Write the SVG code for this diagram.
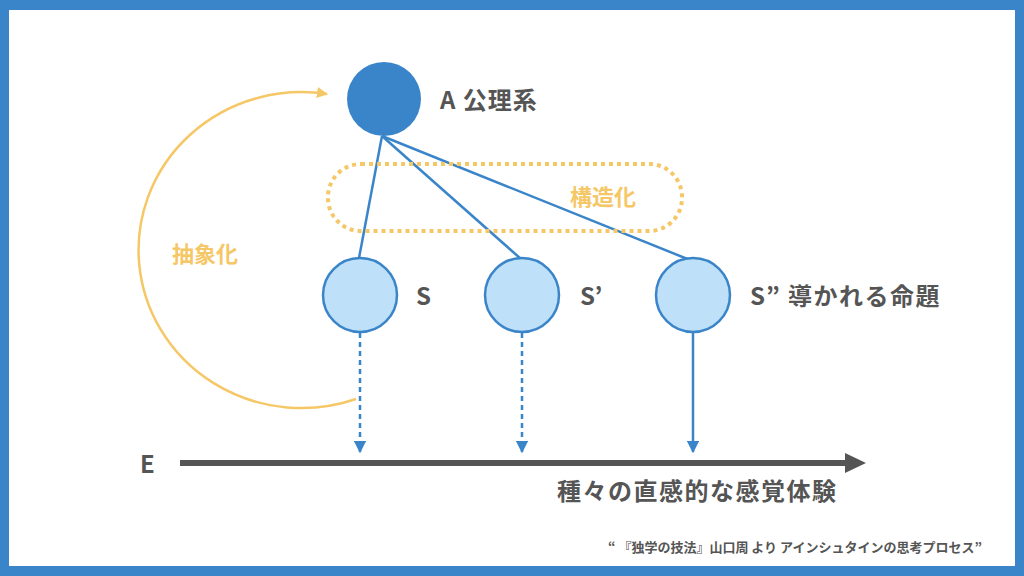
<svg xmlns="http://www.w3.org/2000/svg" width="1024" height="576" viewBox="0 0 1024 576">
<defs>
<style>
.t{font-family:"Noto Sans CJK JP","Liberation Sans",sans-serif;fill:#555;font-weight:700}
.y{font-family:"Noto Sans CJK JP",sans-serif;fill:#f5c766;font-weight:700;font-size:22px}
.s{fill:#bee0f8;stroke:#3a85c9;stroke-width:2.5}
.c{stroke:#3a85c9;stroke-width:2.5;fill:none}
</style>
<marker id="ab" viewBox="0 0 10 10" refX="9" refY="5" markerWidth="5" markerHeight="5" orient="auto" markerUnits="strokeWidth"><path d="M0,0L10,5L0,10z" fill="#3a85c9"/></marker>
<marker id="ay" viewBox="0 0 10 10" refX="9" refY="5" markerWidth="4.5" markerHeight="4.5" orient="auto" markerUnits="strokeWidth"><path d="M0,0L10,5L0,10z" fill="#f5c766"/></marker>
</defs>
<rect x="0" y="0" width="1024" height="576" fill="#3a85c9"/>
<rect x="9" y="10" width="1006" height="556" fill="#fff"/>
<g id="connectors">
<line class="c" x1="382" y1="136" x2="359" y2="258"/>
<line class="c" x1="382" y1="136" x2="521" y2="259"/>
<line class="c" x1="382" y1="136" x2="690" y2="260"/>
<line class="c" x1="360" y1="333" x2="360" y2="452" stroke-dasharray="5 4" marker-end="url(#ab)"/>
<line class="c" x1="522" y1="333" x2="522" y2="452" stroke-dasharray="5 4" marker-end="url(#ab)"/>
<line class="c" x1="693" y1="333" x2="693" y2="452" marker-end="url(#ab)"/>
<path d="M356,399 A163,158 0 1 1 327,94" fill="none" stroke="#f5c766" stroke-width="2.5" marker-end="url(#ay)"/>
<line x1="180" y1="463" x2="848" y2="463" stroke="#555" stroke-width="6"/>
<path d="M845,453L866,463L845,473z" fill="#555"/>
</g>
<g id="structure">
<rect x="328" y="164" width="354" height="67" rx="33" fill="none" stroke="#f5c766" stroke-width="4" stroke-dasharray="4 4"/>
<text class="y" x="570" y="205">構造化</text>
</g>
<g id="abstract"><text class="y" x="172" y="262">抽象化</text></g>
<g id="A">
<circle cx="384" cy="99" r="37" fill="#3a85c9"/>
<text class="t" x="440" y="109" font-size="24" letter-spacing="1">A 公理系</text>
</g>
<g id="S">
<circle class="s" cx="360" cy="295" r="37"/>
<text class="t" x="416" y="305" font-size="24">S</text>
</g>
<g id="S1">
<circle class="s" cx="522" cy="295" r="37"/>
<text class="t" x="580" y="305" font-size="24">S’</text>
</g>
<g id="S2">
<circle class="s" cx="693" cy="295" r="37"/>
<text class="t" x="750" y="305" font-size="24" letter-spacing="1.5">S” 導かれる命題</text>
</g>
<g id="E">
<text class="t" x="140" y="473" font-size="24">E</text>
<text class="t" x="557" y="500" font-size="24" letter-spacing="1.5">種々の直感的な感覚体験</text>
</g>
<text class="t" x="608" y="552" font-size="13" font-weight="500">“ 『独学の技法』山口周 より アインシュタインの思考プロセス”</text>
</svg>
